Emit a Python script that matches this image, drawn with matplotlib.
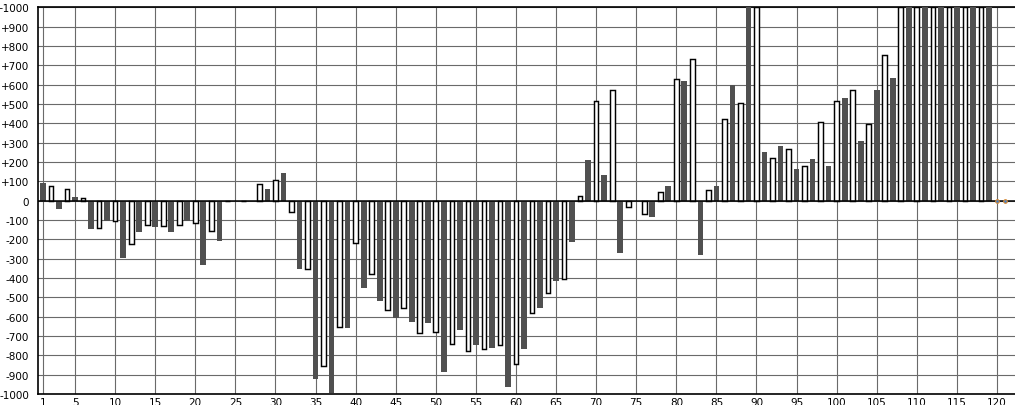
import matplotlib
matplotlib.use("Agg")
import matplotlib.pyplot as plt
import numpy as np

# Bar values for positions 1..119 (odd = dark series, even = white series)
values = [
    90, 75, -45, 60, 17, 15, -148, -141, -107, -105,
    -296, -223, -163, -125, -137, -132, -163, -125, -107, -115,
    -333, -156, -210, 0, 0, 0, 0, 85, 59, 105,
    143, -58, -356, -352, -921, -854, -993, -656, -658, -218,
    -452, -378, -519, -564, -607, -553, -627, -687, -632, -677,
    -885, -739, -668, -780, -746, -765, -761, -749, -962, -847,
    -766, -579, -555, -478, -416, -404, -215, 24, 209, 513,
    131, 570, -271, -33, 0, -69, -86, 47, 74, 627,
    618, 731, -282, 57, 74, 420, 596, 503, 1000, 1000,
    250, 218, 282, 269, 162, 181, 214, 409, 178, 513,
    530, 570, 307, 396, 572, 751, 634, 1000, 1000, 1000,
    1000, 1000, 1000, 1000, 1000, 1000, 1000, 1000, 1000,
]
positions = list(range(1, len(values) + 1))
marker_positions = [120, 121]
marker_values = [0, 0]

x_ticks = [1] + list(range(5, 121, 5))
y_ticks = list(range(-1000, 1001, 100))
y_tick_labels = [("+%d" % v if v > 0 else "%d" % v) for v in y_ticks]

W, H = 1015, 406
fig = plt.figure(figsize=(W / 100, H / 100), dpi=100)
ax = fig.add_axes([37.7 / W, 11 / H, 1 - 37.7 / W + 0.002, (395 - 8.3) / H])

dark_x = [p for p, v in zip(positions, values) if p % 2 == 1]
dark_v = [v for p, v in zip(positions, values) if p % 2 == 1]
white_x = [p for p, v in zip(positions, values) if p % 2 == 0]
white_v = [v for p, v in zip(positions, values) if p % 2 == 0]

ax.bar(dark_x, dark_v, width=0.71, color="#505050", edgecolor="none", zorder=3)
ax.bar(white_x, white_v, width=0.58, color="white", edgecolor="black",
       linewidth=1.05, zorder=3)
ax.scatter(marker_positions, marker_values, s=7, marker="o",
           facecolor="#4a7fc0", edgecolor="#e08a2a", linewidth=0.7, zorder=5)

ax.axhline(0, color="black", linewidth=1.1, zorder=4)

ax.set_xlim(0.34, 122.5)
ax.set_ylim(-1000, 1000)
ax.set_xticks(x_ticks)
ax.set_xticklabels([str(t) for t in x_ticks])
ax.set_yticks(y_ticks)
ax.set_yticklabels(y_tick_labels)

ax.grid(True, color="#6a6a6a", linewidth=0.8, zorder=0)
ax.set_axisbelow(True)

for s in ["left", "top", "bottom"]:
    ax.spines[s].set_color("black")
    ax.spines[s].set_linewidth(1.2)
ax.spines["right"].set_visible(False)

ax.tick_params(axis="both", length=0, labelsize=7.5, colors="black")
ax.tick_params(axis="y", pad=6)
ax.tick_params(axis="x", pad=2)

fig.savefig("out.png", dpi=100)
